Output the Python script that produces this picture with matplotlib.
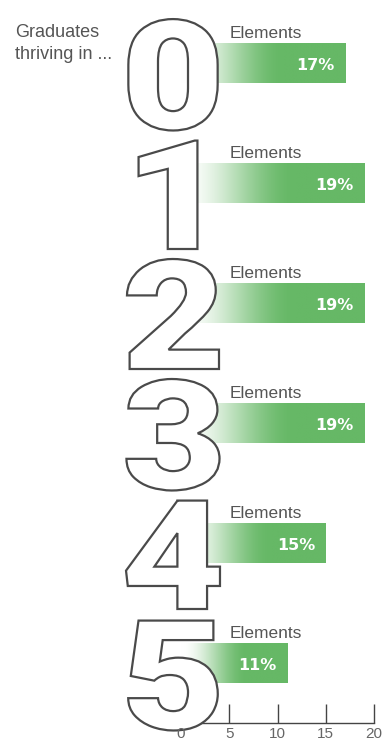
import numpy as np
import matplotlib.pyplot as plt
from matplotlib import font_manager
from matplotlib.colors import to_rgb
from matplotlib.font_manager import FontProperties
from matplotlib.patches import PathPatch
from matplotlib.textpath import TextPath
from matplotlib.transforms import Affine2D

# share of graduates thriving, by number of elements
elements = ['0', '1', '2', '3', '4', '5']
shares = [17, 19, 19, 19, 15, 11]
bar_label = 'Elements'
x_ticks = [0, 5, 10, 15, 20]
title_text = 'Graduates\nthriving in ...'

GREEN = to_rgb('#66b866')
GREY = '#555555'

plt.rcParams['font.family'] = ['Liberation Sans', 'DejaVu Sans']

fig = plt.figure(figsize=(3.84, 7.45), dpi=100)
ax = fig.add_axes([181 / 384, 22 / 745, 193 / 384, 720 / 745])
ax.set_xlim(0, 20)
ax.set_ylim(5.5, -0.5)

# pixels per data unit in each direction
px_x = 193 / 20
px_y = 720 / 6

digit_font = FontProperties(
    fname=font_manager.findfont(FontProperties(family='Roboto', weight='black')))
# numeral size in pixels, taken from the "2" glyph
ref = TextPath((0, 0), '2', size=1, prop=digit_font).get_extents()
sx = 92 / ref.width
sy = 110 / ref.height

bar_h = 0.33
for i, (digit, val) in enumerate(zip(elements, shares)):
    # gradient bar: white on the left fading into solid green
    xs = np.linspace(0, val, 300)
    t = np.clip(xs / (0.62 * val), 0, 1)
    t = t * t * (3 - 2 * t)
    rgba = np.ones((1, len(xs), 4))
    for c in range(3):
        rgba[0, :, c] = 1 - t * (1 - GREEN[c])
    ax.imshow(rgba, extent=[0, val, i + bar_h / 2, i - bar_h / 2],
              aspect='auto', interpolation='bilinear', zorder=1)

    ax.text(val - 1.1, i + 0.02, f'{val}%', ha='right', va='center',
            color='white', fontsize=11.5, fontweight='bold',
            family='DejaVu Sans', zorder=3)
    ax.text(5, i - 0.25, bar_label, ha='left', va='center', color=GREY,
            fontsize=12.5, zorder=3)

    # big outlined numeral, built from the glyph outline
    tp = TextPath((0, 0), digit, size=1, prop=digit_font)
    ext = tp.get_extents()
    cx = (ext.x0 + ext.x1) / 2
    x_px = 168 if digit == '1' else 173
    tr = (Affine2D().translate(-cx, 0)
          .scale(sx / px_x, -sy / px_y)
          .translate((x_px - 181) / px_x, i + 66 / px_y)) + ax.transData
    ax.add_patch(PathPatch(tp, facecolor='white', edgecolor='#4a4a4a',
                           linewidth=1.6, transform=tr, zorder=5,
                           clip_on=False))

for side in ['top', 'right', 'left']:
    ax.spines[side].set_visible(False)
ax.spines['bottom'].set_color('#444444')
ax.spines['bottom'].set_linewidth(1)
ax.set_yticks([])
ax.set_xticks(x_ticks)
ax.set_xticklabels([''] + [str(v) for v in x_ticks[1:]])
ax.tick_params(axis='x', direction='in', length=14, width=1, color='#444444',
               labelsize=11, labelcolor='#666666', pad=3)
ax.xaxis.get_major_ticks()[0].tick1line.set_visible(False)
# the zero label sits in front of the last numeral
ax.annotate(str(x_ticks[0]), xy=(x_ticks[0], 0), xycoords=('data', 'axes fraction'),
            xytext=(0, -3), textcoords='offset points', ha='center', va='top',
            fontsize=11, color='#666666', zorder=10, annotation_clip=False)

fig.text(15 / 384, 1 - 24 / 745, title_text, ha='left', va='top',
         color=GREY, fontsize=13, linespacing=1.35)

fig.savefig('out.png', dpi=100)
